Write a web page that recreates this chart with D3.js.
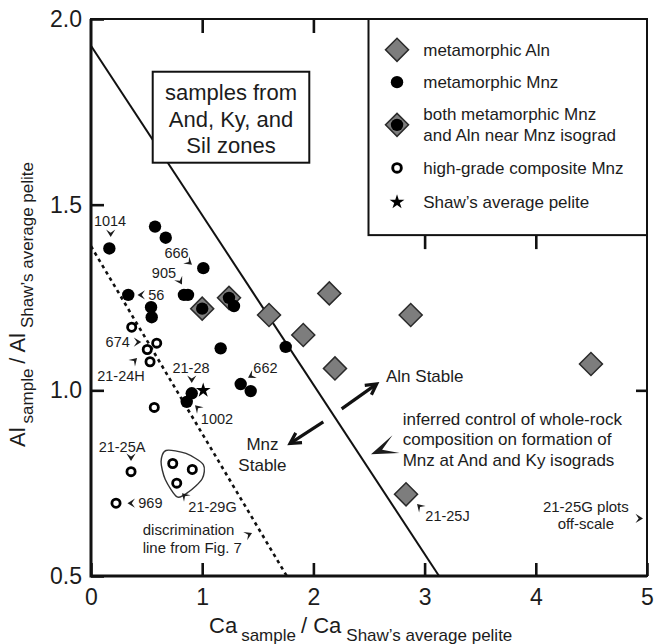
<!DOCTYPE html>
<html><head><meta charset="utf-8">
<script src="https://cdn.jsdelivr.net/npm/d3@7"></script>
<style>
body{margin:0;background:#fff}
svg{display:block}
text{font-family:"Liberation Sans",Arial,Helvetica,sans-serif;fill:#1c1c1c}
</style>
</head><body>
<svg id="c" width="656" height="644"></svg>
<script>
// ---------------- data ----------------
const alnX  = [1.601, 1.909, 2.143, 2.194, 2.875, 4.496, 2.833];
const alnY  = [1.203, 1.149, 1.261, 1.059, 1.203, 1.071, 0.720];
const mnzX  = [0.165, 0.576, 0.672, 1.010, 0.836, 0.872, 0.335, 0.540, 0.546, 1.286, 1.751, 1.166, 1.346, 1.436, 0.906, 0.861];
const mnzY  = [1.382, 1.441, 1.411, 1.329, 1.257, 1.257, 1.257, 1.224, 1.197, 1.227, 1.117, 1.113, 1.017, 0.998, 0.992, 0.969];
const bothX = [1.000, 1.241];
const bothY = [1.220, 1.249];
const hgX   = [0.366, 0.591, 0.506, 0.531, 0.569, 0.360, 0.225, 0.735, 0.911, 0.771];
const hgY   = [1.170, 1.127, 1.110, 1.077, 0.954, 0.781, 0.696, 0.803, 0.787, 0.750];
const shawX = [1.0];
const shawY = [1.0];
const stabilityLine = [[0, 1.928], [3.13, 0.5]];
const discrimLine   = [[0, 1.388], [1.76, 0.5]];
const xTicks = [0, 1, 2, 3, 4, 5];
const yTicks = [0.5, 1.0, 1.5, 2.0];
const legendLabels = ["metamorphic Aln", "metamorphic Mnz", ["both metamorphic Mnz", "and Aln near Mnz isograd"], "high-grade composite Mnz", "Shaw\u2019s average pelite"];
// sample labels: text, position (data units), anchor, arrow tip (data units), arrow angle (deg, screen)
const sampleLabels = [
  {t:["1014"], x:0.171, y:1.456, a:"middle", tx:0.177, ty:1.413, ang:90},
  {t:["666"], x:0.769, y:1.371, a:"middle", tx:0.908, ty:1.338, ang:40},
  {t:["905"], x:0.656, y:1.316, a:"middle", tx:0.818, ty:1.285, ang:60},
  {t:["56"], x:0.515, y:1.257, a:"start", tx:0.418, ty:1.257, ang:180},
  {t:["674"], x:0.240, y:1.130, a:"middle", tx:0.452, ty:1.130, ang:0},
  {t:["21-24H"], x:0.270, y:1.039, a:"middle", tx:0.414, ty:1.087, ang:-45},
  {t:["21-28"], x:0.899, y:1.060, a:"middle", tx:0.906, ty:1.020, ang:90},
  {t:["1002"], x:1.133, y:0.923, a:"middle", tx:0.935, ty:0.960, ang:225},
  {t:["662"], x:1.569, y:1.061, a:"middle", tx:1.412, ty:1.034, ang:150},
  {t:["21-25A"], x:0.279, y:0.848, a:"middle", tx:0.360, ty:0.810, ang:90},
  {t:["969"], x:0.425, y:0.696, a:"start", tx:0.328, ty:0.696, ang:180},
  {t:["21-29G"], x:1.093, y:0.687, a:"middle", tx:0.818, ty:0.723, ang:225},
  {t:["21-25J"], x:3.206, y:0.661, a:"middle", tx:2.932, ty:0.694, ang:225},
  {t:["21-25G plots","off-scale"], x:4.45, y:0.687, a:"middle", tx:4.964, ty:0.655, ang:0, big:true},
  {t:["discrimination","line from Fig. 7"], x:0.465, y:0.624, a:"start", tx:1.448, ty:0.616, ang:-25, big:true}
];
const loop29G = [[0.674,0.838],[0.854,0.830],[1.010,0.800],[1.000,0.762],[0.880,0.727],[0.775,0.713],[0.668,0.760],[0.630,0.808]];

// ---------------- layout ----------------
const svg = d3.select("#c");
const x = d3.scaleLinear().domain([0, 5]).range([91, 647]);
const y = d3.scaleLinear().domain([0.5, 2.0]).range([576, 19]);
const FONT = '"Liberation Sans",Arial,Helvetica,sans-serif';
const INK = "#1c1c1c";

// lines
const line = d3.line().x(d => x(d[0])).y(d => y(d[1]));
svg.append("path").attr("d", line(stabilityLine)).attr("stroke", "#111").attr("stroke-width", 2).attr("fill", "none");
svg.append("path").attr("d", line(discrimLine)).attr("stroke", "#111").attr("stroke-width", 2.6)
   .attr("stroke-dasharray", "3.5,3.8").attr("fill", "none");

// symbol helpers
const sq = d3.symbol().type(d3.symbolSquare).size(265);
const star = d3.symbol().type(d3.symbolStar).size(68);
function diamond(g, cx, cy){
  g.append("path").attr("d", sq()).attr("transform", `translate(${cx},${cy}) rotate(45)`)
   .attr("fill", "#7d7d7d").attr("stroke", "#2a2a2a").attr("stroke-width", 1.5);
}
function dot(g, cx, cy){ g.append("circle").attr("cx", cx).attr("cy", cy).attr("r", 6.2).attr("fill", "#000"); }
function ring(g, cx, cy){ g.append("circle").attr("cx", cx).attr("cy", cy).attr("r", 4.1).attr("fill", "#fff").attr("stroke", "#000").attr("stroke-width", 2.8); }
function both(g, cx, cy){ diamond(g, cx, cy); g.append("circle").attr("cx", cx).attr("cy", cy).attr("r", 6.2).attr("fill", "#000"); }
function shaw(g, cx, cy){ g.append("path").attr("d", star()).attr("transform", `translate(${cx},${cy})`).attr("fill", "#000"); }

// 21-29G loop
svg.append("path").attr("d", d3.line().x(d => x(d[0])).y(d => y(d[1])).curve(d3.curveCardinalClosed.tension(0.2))(loop29G))
   .attr("fill", "none").attr("stroke", "#333").attr("stroke-width", 1.4);

const pts = svg.append("g");
alnX.forEach((v, i) => diamond(pts, x(v), y(alnY[i])));
bothX.forEach((v, i) => both(pts, x(v), y(bothY[i])));
mnzX.forEach((v, i) => dot(pts, x(v), y(mnzY[i])));
hgX.forEach((v, i) => ring(pts, x(v), y(hgY[i])));
shawX.forEach((v, i) => shaw(pts, x(v) + 1, y(shawY[i])));

// arrowheads
function head(g, px, py, ang, L, W, N){
  g.append("path").attr("d", `M0,0L${-L},${-W}L${-L+N},0L${-L},${W}Z`)
   .attr("transform", `translate(${px},${py}) rotate(${ang})`).attr("fill", "#1c1c1c");
}
const ann = svg.append("g");
sampleLabels.forEach(s => {
  const fs = s.big ? 15 : 14.5;
  const t = ann.append("text").attr("font-size", fs).attr("text-anchor", s.a);
  s.t.forEach((ln, k) => t.append("tspan").attr("x", x(s.x)).attr("y", y(s.y) + k * (s.big ? 17.5 : 16)).attr("dy", "0.36em").text(ln));
  head(ann, x(s.tx), y(s.ty), s.ang, 7.5, 4.6, 3.2);
});

// big annotations
function bigText(lines, xd, yd, anchor, lh){
  const t = ann.append("text").attr("font-size", 17).attr("text-anchor", anchor);
  lines.forEach((ln, k) => t.append("tspan").attr("x", x(xd)).attr("y", y(yd) + k * lh).attr("dy", "0.36em").text(ln));
}
bigText(["Aln Stable"], 2.653, 1.039, "start", 0);
bigText(["Mnz", "Stable"], 1.542, 0.855, "middle", 21);
bigText(["inferred control of whole-rock", "composition on formation of", "Mnz at And and Ky isograds"], 2.803, 0.924, "start", 20.8);
function bigArrow(x1, y1, x2, y2){
  const X1 = x(x1), Y1 = y(y1), X2 = x(x2), Y2 = y(y2);
  const a = Math.atan2(Y2 - Y1, X2 - X1);
  ann.append("line").attr("x1", X1).attr("y1", Y1).attr("x2", X2 - 1.5*Math.cos(a)).attr("y2", Y2 - 1.5*Math.sin(a))
     .attr("stroke", "#111").attr("stroke-width", 3.2);
  const L = 12, sp = 0.5;
  ann.append("path").attr("d", `M${X2 - L*Math.cos(a - sp)},${Y2 - L*Math.sin(a - sp)}L${X2},${Y2}L${X2 - L*Math.cos(a + sp)},${Y2 - L*Math.sin(a + sp)}`)
     .attr("fill", "none").attr("stroke", "#111").attr("stroke-width", 3.2).attr("stroke-linejoin", "miter");
}
bigArrow(2.254, 0.950, 2.569, 1.017);
bigArrow(2.089, 0.915, 1.790, 0.857);
head(ann, x(2.518), y(0.828), 158, 27, 9.5, 15);

// "samples from" box
const bx0 = 0.555, by0 = 1.858, bx1 = 1.963, by1 = 1.613;
svg.append("rect").attr("x", x(bx0)).attr("y", y(by0)).attr("width", x(bx1) - x(bx0)).attr("height", y(by1) - y(by0))
   .attr("fill", "#fff").attr("stroke", "#111").attr("stroke-width", 2);
const bt = svg.append("text").attr("font-size", 22).attr("text-anchor", "middle");
["samples from", "And, Ky, and", "Sil zones"].forEach((ln, k) =>
  bt.append("tspan").attr("x", x(1.259)).attr("y", y(1.804) + k * 26.8).attr("dy", "0.36em").text(ln));

// legend
const lx0 = 2.5, ly0 = 2.0, lx1 = 5.0, ly1 = 1.418;
const lg = svg.append("g");
lg.append("rect").attr("x", x(lx0) - 0.5).attr("y", y(ly0)).attr("width", x(lx1) - x(lx0) + 0.5).attr("height", y(ly1) - y(ly0))
  .attr("fill", "#fff").attr("stroke", "#111").attr("stroke-width", 2);
const rowY = [1.917, 1.830, 1.715, 1.599, 1.507];
const symX = x(2.752), txtX = x(2.988);
const symFns = [diamond, (g,a,b)=>dot(g,a,b), both, ring, shaw];
rowY.forEach((ry, i) => {
  const cy = y(ry);
  if (i === 3) { lg.append("circle").attr("cx", symX).attr("cy", cy).attr("r", 4.3).attr("fill", "#fff").attr("stroke", "#000").attr("stroke-width", 2.9); }
  else symFns[i](lg, symX, cy);
  const lab = legendLabels[i];
  const t = lg.append("text").attr("font-size", 17).attr("text-anchor", "start");
  if (Array.isArray(lab)) {
    lab.forEach((ln, k) => t.append("tspan").attr("x", txtX).attr("y", cy - 10.5 + k * 21).attr("dy", "0.36em").text(ln));
  } else t.append("tspan").attr("x", txtX).attr("y", cy).attr("dy", "0.36em").text(lab);
});

// frame
svg.append("rect").attr("x", 91).attr("y", 19).attr("width", 556).attr("height", 557).attr("fill", "none").attr("stroke", "#111").attr("stroke-width", 2);
svg.append("path").attr("d", `M${x(0)},${y(2.0)}V${y(0.5)}H${x(5)}`).attr("fill", "none").attr("stroke", "#111").attr("stroke-width", 3);

// axes
function styleAxis(g, fs){
  g.attr("font-family", FONT).attr("font-size", fs);
  g.select(".domain").remove();
  g.selectAll(".tick line").attr("stroke", "#111").attr("stroke-width", 2.6);
  g.selectAll(".tick text").attr("fill", INK);
}
svg.append("g").attr("transform", `translate(${x(0)},0)`)
   .call(d3.axisLeft(y).tickValues(yTicks).tickFormat(d3.format(".1f")).tickSizeInner(-13).tickSizeOuter(0).tickPadding(9))
   .call(g => styleAxis(g, 23));
svg.append("g").attr("transform", `translate(0,${y(0.5)})`)
   .call(d3.axisBottom(x).tickValues(xTicks).tickFormat(d3.format("d")).tickSizeInner(-13).tickSizeOuter(0).tickPadding(13))
   .call(g => styleAxis(g, 23));
svg.append("g").attr("transform", `translate(0,${y(2.0)})`)
   .call(d3.axisTop(x).tickValues([1, 2]).tickFormat("").tickSizeInner(-14).tickSizeOuter(0))
   .call(g => styleAxis(g, 10));
svg.append("g").attr("transform", `translate(0,${y(ly1)})`)
   .call(d3.axisTop(x).tickValues([3, 4]).tickFormat("").tickSizeInner(-14).tickSizeOuter(0))
   .call(g => styleAxis(g, 10));
svg.append("g").attr("transform", `translate(${x(5)},0)`)
   .call(d3.axisRight(y).tickValues([1.0]).tickFormat("").tickSizeInner(-11).tickSizeOuter(0))
   .call(g => styleAxis(g, 10));

// axis titles
const xt = svg.append("text").attr("x", 209).attr("y", 633).attr("text-anchor", "start");
xt.append("tspan").attr("font-size", 22).text("Ca");
xt.append("tspan").attr("font-size", 17).attr("dx", 4).attr("dy", 8).text("sample");
xt.append("tspan").attr("font-size", 22).attr("dx", 5).attr("dy", -8).text("/ Ca");
xt.append("tspan").attr("font-size", 17).attr("dx", 5).attr("dy", 8).text("Shaw\u2019s average pelite");

const yt = svg.append("text").attr("transform", "translate(25,447) rotate(-90)").attr("text-anchor", "start");
yt.append("tspan").attr("font-size", 22).text("Al");
yt.append("tspan").attr("font-size", 17).attr("dx", 4).attr("dy", 8).text("sample");
yt.append("tspan").attr("font-size", 22).attr("dx", 5).attr("dy", -8).text("/ Al");
yt.append("tspan").attr("font-size", 17).attr("dx", 5).attr("dy", 8).text("Shaw\u2019s average pelite");
</script>
</body></html>
